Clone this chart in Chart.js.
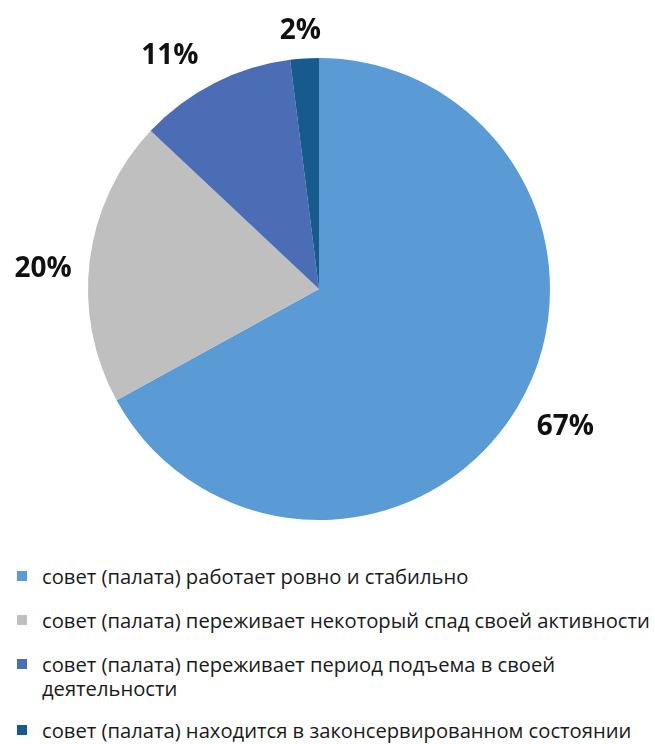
<!DOCTYPE html>
<html>
<head>
<meta charset="utf-8">
<script src="https://cdn.jsdelivr.net/npm/chart.js@4"></script>
<style>
  body { margin: 0; background: #fff; font-family: "Open Sans", sans-serif; }
  #wrap { position: relative; width: 655px; height: 744px; }
  #pie { position: absolute; left: 0; top: 0; }
  #legend { position: absolute; left: 0; top: 564px; width: 655px; }
  .item { position: relative; padding-left: 42px; font-size: 20.2px; line-height: 24px; color: #1a1a1a; margin-bottom: 20px; }
  .item.wrapped { margin-bottom: 18px; }
  .box { position: absolute; left: 17px; top: 7px; width: 10px; height: 10px; }
</style>
</head>
<body>
<div id="wrap">
  <canvas id="pie" width="655" height="545"></canvas>
  <div id="legend"></div>
</div>
<script>
const categories = [
  "совет (палата) работает ровно и стабильно",
  "совет (палата) переживает некоторый спад своей активности",
  "совет (палата) переживает период подъема в своей деятельности",
  "совет (палата) находится в законсервированном состоянии",
];
const shares = [67, 20, 11, 2];
const colors = ["#5B9BD5", "#BFBFBF", "#4A6DB5", "#175A8E"];

// small nudges so the outside labels sit where the original put them
const labelNudge = [[7, -3], [0, 15], [-23, 15], [-2, 6]];

const outsideLabels = {
  id: "outsideLabels",
  afterDatasetsDraw(chart) {
    const ctx = chart.ctx;
    ctx.save();
    ctx.font = "bold 28px 'Open Sans', sans-serif";
    ctx.fillStyle = "#111";
    ctx.textAlign = "center";
    ctx.textBaseline = "middle";
    chart.getDatasetMeta(0).data.forEach(function (arc, i) {
      const mid = (arc.startAngle + arc.endAngle) / 2;
      const r = arc.outerRadius + (i === 3 ? 33 : 47);
      ctx.fillText(
        shares[i] + "%",
        arc.x + Math.cos(mid) * r + labelNudge[i][0],
        arc.y + Math.sin(mid) * r + labelNudge[i][1]
      );
    });
    ctx.restore();
  },
};

new Chart(document.getElementById("pie"), {
  type: "pie",
  data: {
    labels: categories,
    datasets: [
      {
        data: shares,
        backgroundColor: colors,
        borderWidth: 0,
      },
    ],
  },
  options: {
    responsive: false,
    animation: false,
    layout: { padding: { left: 0, right: 17, top: 58, bottom: 25 } },
    plugins: {
      legend: { display: false },
      tooltip: { enabled: false },
    },
  },
  plugins: [outsideLabels],
});

const legend = document.getElementById("legend");
categories.forEach(function (name, i) {
  const item = document.createElement("div");
  item.className = "item" + (i === 2 ? " wrapped" : "");
  const box = document.createElement("span");
  box.className = "box";
  box.style.background = colors[i];
  item.appendChild(box);
  item.appendChild(document.createTextNode(name));
  legend.appendChild(item);
});
</script>
</body>
</html>
